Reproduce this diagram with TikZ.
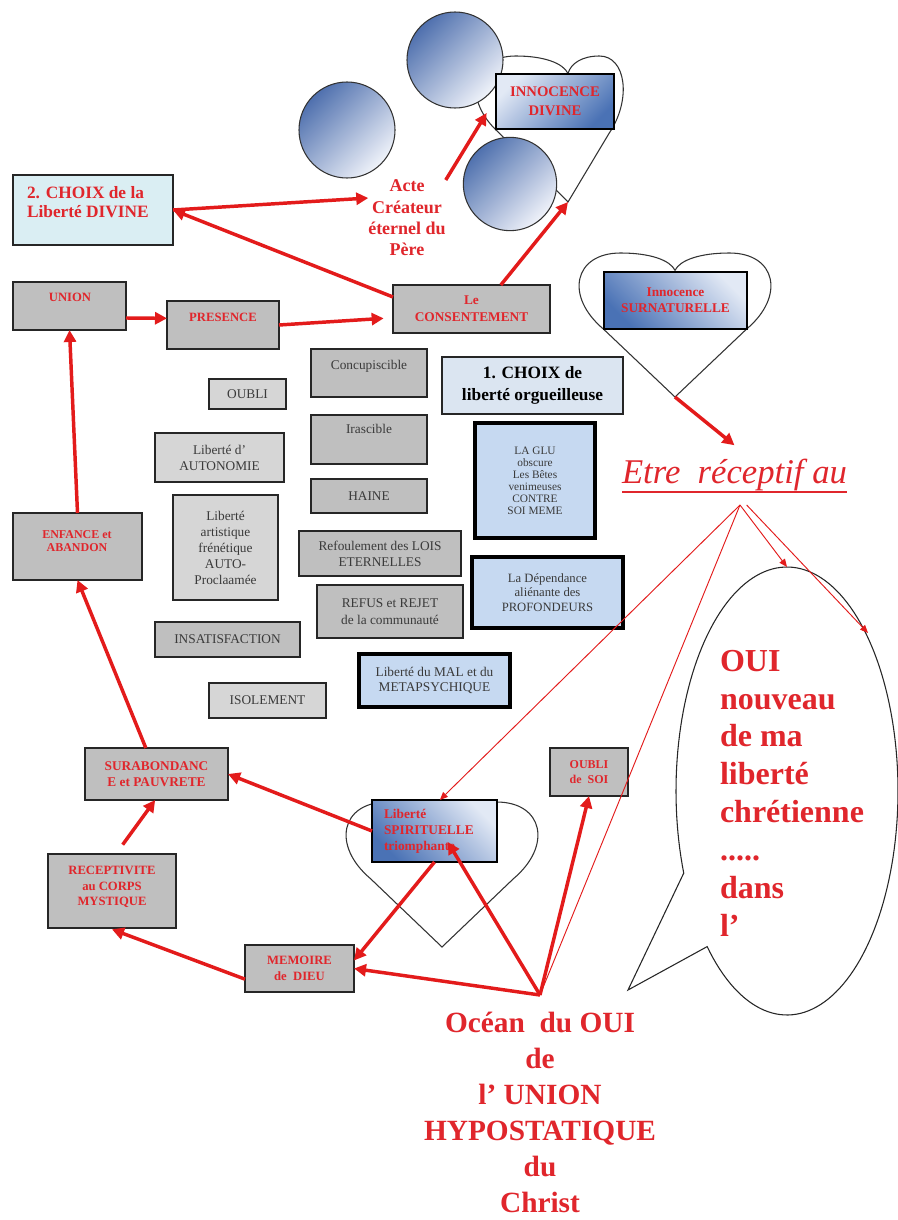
\documentclass[tikz,border=0pt]{standalone}
\usepackage{fontspec}
\setmainfont{Liberation Serif}
\usetikzlibrary{arrows.meta}

\definecolor{redink}{HTML}{E0262C}
\definecolor{arrowred}{HTML}{E31B1B}
\definecolor{boxgrey}{HTML}{BFBFBF}
\definecolor{boxgreylight}{HTML}{D6D6D6}
\definecolor{greytext}{HTML}{3A3A3A}
\definecolor{paleblue}{HTML}{C6D9F1}
\definecolor{palecyan}{HTML}{DAEEF3}
\definecolor{choixblue}{HTML}{DBE5F1}
\definecolor{gradlight}{HTML}{E2E9F5}
\definecolor{graddark}{HTML}{4A72B5}
\definecolor{orbdark}{HTML}{4F70AE}
\definecolor{orblight}{HTML}{F0F3FA}

\newcommand\fs[2]{\fontsize{#1}{#2}\selectfont}
% rectangle node given by its corners (pixel grid)
\newcommand\rbox[6]{\node[#1, minimum width={(#5-#3)*0.75pt}, minimum height={(#6-#4)*0.75pt}] (#2) at ({(#3+#5)/2},{(#4+#6)/2})}
% heart outline: style, centre x, top y, left half width, right half width, height
\newcommand\heartpath[6]{%
 \draw[#1] (#2,{#3+#6}) -- ({#2-0.72*#4},{#3+0.53*#6})
   .. controls ({#2-1.12*#4},{#3+0.30*#6}) and ({#2-1.02*#4},#3) .. ({#2-0.55*#4},#3)
   .. controls ({#2-0.25*#4},#3) and ({#2-0.05*#4},{#3+0.05*#6}) .. (#2,{#3+0.12*#6})
   .. controls ({#2+0.05*#5},{#3+0.05*#6}) and ({#2+0.25*#5},#3) .. ({#2+0.55*#5},#3)
   .. controls ({#2+1.02*#5},#3) and ({#2+1.12*#5},{#3+0.30*#6}) .. ({#2+0.72*#5},{#3+0.53*#6})
   -- cycle;}

\tikzset{
  every node/.style={inner sep=0pt, outer sep=0pt},
  heartline/.style={draw=black!80, line width=0.8pt, fill=white},
  orb/.style={draw=black!80, line width=0.8pt, top color=orbdark, bottom color=orblight, shading angle=45},
  greybox/.style={draw=black!85, line width=0.9pt, fill=boxgrey, align=center, text=greytext, font=\fs{10}{12}},
  lightbox/.style={greybox, fill=boxgreylight},
  redbox/.style={draw=black!85, line width=0.9pt, fill=boxgrey, align=center, text=redink, font=\bfseries\fs{9.5}{12}},
  redlabel/.style={text=redink, font=\bfseries\fs{9.5}{12}, align=center},
  greylabel/.style={text=greytext, font=\fs{10}{12}, align=center},
  heavybox/.style={draw=black, line width=3.5pt, fill=paleblue, align=center, text=greytext, font=\fs{9.5}{11}},
  gradbox/.style={draw=black, line width=0.9pt, top color=gradlight, bottom color=graddark, align=center, text=redink, font=\bfseries\fs{10}{12}},
  bigarrow/.style={draw=arrowred, line width=2.6pt, -{Triangle[length=9pt,width=9pt]}},
  thinarrow/.style={draw=arrowred, line width=0.7pt, -{Triangle[length=6pt,width=5pt]}},
  thinline/.style={draw=arrowred, line width=0.7pt},
}

\begin{document}
\begin{tikzpicture}[x=0.75pt, y=-0.75pt]
\fill[white] (0,0) rectangle (898,1220);
\useasboundingbox (0,0) rectangle (898,1220);

% ---------- top: divine innocence ----------
\heartpath{heartline}{568}{56}{95}{57}{146}
\coordinate (divinetip) at (568,202);
\draw[orb] (347,130) circle[radius=36pt];
\draw[orb] (455,60) circle[radius=36pt];
\draw[orb] (510,184) circle[radius=35pt];
\rbox{gradbox, shading angle=45, font=\bfseries\fs{11}{14}}{divine}{496}{74}{614}{129}{INNOCENCE\\DIVINE};

\node[text=redink, font=\bfseries\fs{13.5}{16}, align=center, anchor=north] (acte) at (407,180) {Acte\\Créateur\\éternel du\\Père};

\rbox{draw=black!85, line width=0.9pt, fill=palecyan}{choix2}{13}{175}{173}{245}{};
\node[text=redink, font=\bfseries\fs{13}{14.5}, align=left, anchor=north west] (choix2txt) at (27,186) {2. CHOIX de la\\Liberté DIVINE};

% ---------- upper row ----------
\rbox{redbox}{union}{13}{282}{126}{330}{};
\node[redlabel] (uniontxt) at (70,297) {UNION};
\rbox{redbox}{presence}{167}{301}{279}{349}{};
\node[redlabel] (presencetxt) at (223,317) {PRESENCE};
\rbox{redbox, font=\bfseries\fs{10}{12.5}}{consent}{393}{285}{550}{333}{Le\\CONSENTEMENT};

% ---------- supernatural innocence ----------
\heartpath{heartline}{675}{253}{99}{99}{144}
\coordinate (surtip) at (675,397);
\rbox{gradbox, shading angle=-45}{surnat}{604}{272}{747}{329}{Innocence\\SURNATURELLE};

\rbox{draw=black!85, line width=0.9pt, fill=choixblue, align=center, font=\bfseries\fs{13}{16.5}}{choix1}{442}{357}{623}{414}{1. CHOIX de\\liberté orgueilleuse};

% ---------- grey boxes ----------
\rbox{greybox}{concup}{311}{349}{427}{397}{};
\node[greylabel] (concuptxt) at (369,366) {Concupiscible};
\rbox{lightbox}{oubli}{209}{379}{286}{409}{OUBLI};
\rbox{greybox}{irasc}{311}{415}{427}{464}{};
\node[greylabel] (irasctxt) at (369,429) {Irascible};
\rbox{lightbox}{auton}{155}{433}{284}{482}{Liberté d'\\AUTONOMIE};
\rbox{greybox}{haine}{311}{479}{427}{513}{HAINE};
\rbox{lightbox}{artis}{173}{495}{278}{600}{Liberté\\artistique\\frénétique\\AUTO-\\Proclaamée};
\rbox{greybox, font=\fs{10}{11.8}}{refoul}{299}{531}{461}{576}{Refoulement des LOIS\\ETERNELLES};
\rbox{greybox, font=\fs{10}{12.5}}{refus}{317}{585}{463}{638}{REFUS et REJET\\de la communauté};
\rbox{greybox}{insat}{155}{622}{300}{657}{INSATISFACTION};
\rbox{lightbox}{isol}{209}{683}{326}{718}{ISOLEMENT};

% ---------- heavy framed boxes ----------
\rbox{heavybox, font=\fs{8.5}{9}}{glu}{475}{423}{595}{538}{LA GLU\\obscure\\Les Bêtes\\venimeuses\\CONTRE\\SOI MEME};
\rbox{heavybox}{depend}{472}{557}{623}{628}{La Dépendance\\aliénante des\\PROFONDEURS};
\rbox{heavybox, font=\fs{10}{11.5}}{mal}{359}{654}{510}{707}{Liberté du MAL et du\\METAPSYCHIQUE};

% ---------- left column ----------
\rbox{redbox}{enfance}{13}{513}{142}{580}{};
\node[redlabel, font=\bfseries\fs{9}{9.5}] (enfancetxt) at (77,541) {ENFANCE et\\ABANDON};
\rbox{redbox, font=\bfseries\fs{10}{12}}{surab}{85}{748}{228}{800}{SURABONDANC\\E et PAUVRETE};
\rbox{redbox}{recep}{48}{854}{176}{928}{};
\node[redlabel, font=\bfseries\fs{9.5}{11.6}] (receptxt) at (112,887) {RECEPTIVITE\\au CORPS\\MYSTIQUE};
\rbox{redbox, font=\bfseries\fs{9.5}{12.5}}{memoire}{245}{945}{354}{992}{MEMOIRE\\de~ DIEU};
\rbox{redbox, font=\bfseries\fs{9}{11}}{oublisoi}{550}{748}{628}{796}{OUBLI\\de~ SOI};

% ---------- spiritual liberty ----------
\heartpath{heartline}{442}{802}{99}{99}{145}
\rbox{gradbox, shading angle=-45}{spirit}{372}{800}{497}{862}{};
\node[text=redink, font=\bfseries\fs{10}{12}, align=left, anchor=west] (spirittxt) at (384,831) {Liberté\\SPIRITUELLE\\triomphante};

% ---------- speech bubble ----------
\coordinate (bubtop) at (787,567);
\coordinate (bubright) at (868,633);
\draw[draw=black!85, line width=0.8pt, fill=white] (628,990) -- plot[domain=-201.5:136, samples=160] ({787+111*cos(\x)},{791+224*sin(\x)}) -- cycle;
\node[text=redink, font=\bfseries\fs{24}{28.4}, align=left, anchor=north west] (oui) at (720,650) {OUI\\nouveau\\de ma\\liberté\\chrétienne\\.....\\dans\\l’};

% ---------- receptivity ----------
\node[text=redink, font=\itshape\fs{26}{30}, anchor=base west] (etre) at (622,483) {Etre~ réceptif au};
\draw[redink, line width=1.4pt] ([yshift=-1.5pt]etre.south west) -- ([yshift=-1.5pt]etre.south east);
\coordinate (recv) at (740,505);

% ---------- ocean ----------
\node[text=redink, font=\bfseries\fs{22}{27}, align=center, anchor=north] (ocean) at (540,1012) {Océan~ du OUI\\de\\l’ UNION\\HYPOSTATIQUE\\du\\Christ};
\coordinate (confl) at (540,995);

% ---------- connectors ----------
\draw[bigarrow] (choix2.east) -- ([yshift=15pt]acte.west);
\draw[bigarrow] ([yshift=-9pt]consent.north west) -- (choix2.east);
\draw[bigarrow] (acte.north east) -- ([xshift=-7pt,yshift=12pt]divine.south west);
\draw[bigarrow] ([xshift=22pt]consent.north) -- (divinetip);
\draw[bigarrow] ([yshift=-9pt]union.east) -- ([yshift=5pt]presence.west);
\draw[bigarrow] (presence.east) -- ([xshift=-7pt,yshift=-7pt]consent.west);
\draw[bigarrow] (enfance.north) -- (union.south);
\draw[bigarrow] ([xshift=-8pt]surab.north) -- (enfance.south);
\draw[bigarrow] ([xshift=8pt,yshift=7pt]recep.north) -- ([xshift=-1pt]surab.south);
\draw[bigarrow] (spirit.west) -- (surab.east);
\draw[bigarrow] (spirit.south) -- ([yshift=6pt]memoire.east);
\draw[bigarrow] ([yshift=-8pt]memoire.west) -- ([yshift=-1pt]recep.south);
\draw[bigarrow] (confl) -- (memoire.east);
\draw[bigarrow] (confl) -- ([xshift=10pt,yshift=15pt]spirit.south);
\draw[bigarrow] (confl) -- (oublisoi.south);
\draw[bigarrow] (surtip) -- ([yshift=10pt]etre.north);
\draw[thinarrow] (recv) -- ([xshift=4pt]spirit.north);
\draw[thinline] (recv) -- (confl);
\draw[thinarrow] (recv) -- (bubtop);
\draw[thinarrow] ([xshift=5pt]recv) -- (bubright);
\end{tikzpicture}
\end{document}
